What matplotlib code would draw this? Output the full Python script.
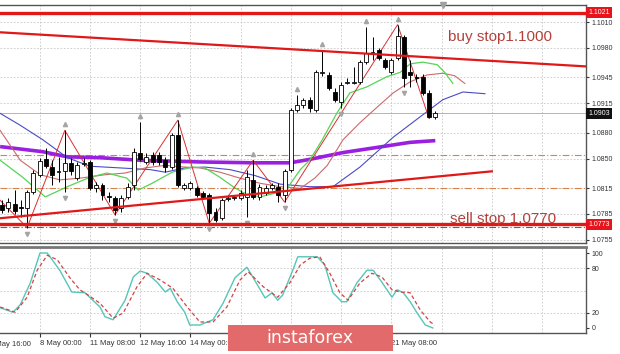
import numpy as np
import matplotlib.pyplot as plt
from matplotlib.patches import Rectangle
from matplotlib.transforms import blended_transform_factory

plt.rcParams['font.family'] = ['Liberation Sans', 'DejaVu Sans']

# EURUSD H4 candles
opens = [1.0795, 1.0792, 1.0797, 1.0793, 1.0792, 1.0811, 1.0831, 1.0849, 1.0840, 1.0834,
         1.0835, 1.0845, 1.0827, 1.0844, 1.0846, 1.0815, 1.0819, 1.0806, 1.0804, 1.0792,
         1.0805, 1.0819, 1.0857, 1.0846, 1.0854, 1.0854, 1.0848, 1.0840, 1.0878, 1.0815,
         1.0815, 1.0815, 1.0810, 1.0807, 1.0787, 1.0780, 1.0803, 1.0804, 1.0804, 1.0805,
         1.0825, 1.0805, 1.0810, 1.0815, 1.0817, 1.0807, 1.0837, 1.0907, 1.0913, 1.0919,
         1.0907, 1.0950, 1.0948, 1.0928, 1.0916, 1.0938, 1.0938, 1.0940, 1.0963, 1.0974,
         1.0977, 1.0965, 1.0951, 1.0968, 1.0992, 1.0951, 1.0946, 1.0946, 1.0927, 1.0899]
highs = [1.0801, 1.0804, 1.0813, 1.0801, 1.0813, 1.0837, 1.0851, 1.0862, 1.0848, 1.0852,
         1.0883, 1.0851, 1.0846, 1.0851, 1.0848, 1.0822, 1.0821, 1.0811, 1.0806, 1.0807,
         1.0821, 1.0862, 1.0893, 1.0857, 1.0858, 1.0858, 1.0852, 1.0880, 1.0895, 1.0821,
         1.0824, 1.0818, 1.0812, 1.0810, 1.0792, 1.0804, 1.0807, 1.0807, 1.0813, 1.0837,
         1.0848, 1.0820, 1.0819, 1.0821, 1.0821, 1.0838, 1.0909, 1.0924, 1.0921, 1.0922,
         1.0954, 1.0977, 1.0951, 1.0933, 1.0940, 1.0944, 1.0957, 1.0965, 1.1004, 1.0992,
         1.0980, 1.0968, 1.0968, 1.1007, 1.0995, 1.0965, 1.0949, 1.0949, 1.0930, 1.0906]
lows = [1.0786, 1.0787, 1.0785, 1.0782, 1.0769, 1.0808, 1.0828, 1.0839, 1.0819, 1.0822,
        1.0811, 1.0831, 1.0825, 1.0841, 1.0813, 1.0811, 1.0801, 1.0799, 1.0784, 1.0787,
        1.0803, 1.0813, 1.0847, 1.0844, 1.0842, 1.0842, 1.0834, 1.0838, 1.0817, 1.0813,
        1.0813, 1.0805, 1.0803, 1.0774, 1.0776, 1.0778, 1.0800, 1.0801, 1.0801, 1.0782,
        1.0803, 1.0801, 1.0807, 1.0813, 1.0799, 1.0799, 1.0834, 1.0904, 1.0909, 1.0904,
        1.0904, 1.0947, 1.0930, 1.0916, 1.0909, 1.0937, 1.0937, 1.0937, 1.0961, 1.0965,
        1.0965, 1.0955, 1.0949, 1.0965, 1.0934, 1.0934, 1.0940, 1.0924, 1.0897, 1.0896]
closes = [1.0790, 1.0799, 1.0788, 1.0792, 1.0811, 1.0833, 1.0847, 1.0841, 1.0831, 1.0835,
          1.0845, 1.0835, 1.0842, 1.0845, 1.0815, 1.0819, 1.0807, 1.0805, 1.0790, 1.0804,
          1.0817, 1.0858, 1.0849, 1.0852, 1.0846, 1.0846, 1.0840, 1.0878, 1.0819, 1.0819,
          1.0821, 1.0807, 1.0805, 1.0786, 1.0778, 1.0801, 1.0804, 1.0805, 1.0810, 1.0828,
          1.0805, 1.0817, 1.0815, 1.0819, 1.0807, 1.0835, 1.0907, 1.0913, 1.0919, 1.0909,
          1.0951, 1.0951, 1.0933, 1.0919, 1.0936, 1.0940, 1.0940, 1.0963, 1.0974, 1.0975,
          1.0968, 1.0957, 1.0965, 1.0994, 1.0944, 1.0948, 1.0944, 1.0927, 1.0899, 1.0903]

# slow MA (purple)
ma_x = [-0.3, 6.5, 10.4, 15.6, 22.0, 31.5, 40.0, 45.9, 49.0, 54.3, 59.7, 65.0, 69.0]
ma_y = [1.0864, 1.0858, 1.0852, 1.0851, 1.0848, 1.0846, 1.0845, 1.0845, 1.0849, 1.0857,
        1.0863, 1.0869, 1.0871]

# alligator lines
jaw_x = [-0.3, 2.9, 6.5, 10.4, 14.0, 18.8, 23.6, 26.0, 29.1, 32.3, 36.3, 40.3, 44.3, 49.0,
         52.7, 57.0, 62.3, 66.6, 70.2, 73.4, 76.9]
jaw_y = [1.0903, 1.0889, 1.0872, 1.0851, 1.0841, 1.0839, 1.0837, 1.0834, 1.0839, 1.0840,
         1.0837, 1.0830, 1.0820, 1.0817, 1.0817, 1.0840, 1.0875, 1.0899, 1.0919, 1.0928, 1.0926]
teeth_x = [-0.3, 2.9, 6.1, 9.2, 12.4, 16.4, 19.6, 22.8, 26.0, 29.1, 31.5, 34.7, 37.9, 41.1,
           44.3, 47.5, 49.8, 51.8, 54.3, 57.0, 59.7, 62.3, 65.0, 67.7, 70.2, 72.1, 73.7]
teeth_y = [1.0883, 1.0848, 1.0831, 1.0825, 1.0827, 1.0831, 1.0833, 1.0839, 1.0842, 1.0840,
           1.0839, 1.0834, 1.0827, 1.0821, 1.0817, 1.0815, 1.0827, 1.0842, 1.0872, 1.0892,
           1.0910, 1.0927, 1.0940, 1.0948, 1.0950, 1.0947, 1.0938]
lips_x = [-0.3, 3.3, 6.9, 10.4, 14.0, 16.7, 19.9, 21.7, 23.9, 27.1, 30.3, 32.3, 34.7, 36.8,
          38.4, 41.1, 43.8, 45.4, 47.5, 49.0, 51.0, 53.3, 55.4, 58.1, 61.3, 63.4, 65.0, 67.0,
          69.3, 70.5, 71.8]
lips_y = [1.0848, 1.0828, 1.0805, 1.0817, 1.0828, 1.0833, 1.0827, 1.0813, 1.0821, 1.0834,
          1.0840, 1.0839, 1.0828, 1.0817, 1.0810, 1.0805, 1.0810, 1.0815, 1.0837, 1.0848,
          1.0872, 1.0903, 1.0927, 1.0934, 1.0946, 1.0951, 1.0961, 1.0963, 1.0960, 1.0951, 1.0938]

# zigzag pivots
zz_x = [-0.3, 4, 10, 18, 28, 33, 40, 45, 63, 68]
zz_y = [1.0801, 1.0769, 1.0883, 1.0784, 1.0895, 1.0774, 1.0848, 1.0799, 1.1007, 1.0897]

# fractals
fr_up = [10, 22, 28, 40, 47, 51, 58, 63]
fr_dn = [4, 10, 18, 33, 39, 45, 54, 64]

# levels and trendlines
res_level, sup_level = 1.1021, 1.0773
sell_level = 1.0770
dash_levels = [1.0854, 1.0815]
last_price = 1.0903
trend_dn_x, trend_dn_y = [-0.32, 93.0], [1.0998, 1.0958]
trend_up_x, trend_up_y = [-0.32, 78.0], [1.0780, 1.0835]

price_ticks = [1.1010, 1.0980, 1.0945, 1.0915, 1.0880, 1.0850, 1.0815, 1.0785, 1.0755]
time_ticks = [-2, 6, 14, 22, 30, 38, 46, 54, 62]
time_labels = ['6 May 16:00', '8 May 00:00', '11 May 08:00', '12 May 16:00', '14 May 00:00',
               '', '', '', '21 May 08:00']   # middle ones sit under the logo
grid_x = [6, 14, 22, 30, 38, 46, 54, 62, 70, 78, 86]

# stochastic
k_x = [-0.3, 1.75, 2.9, 4.5, 6.05, 7.2, 9.2, 11.1, 13.2, 15.6, 16.4, 17.7, 19.6, 20.9, 22.0,
       23.1, 24.7, 26.0, 26.8, 27.9, 29.1, 29.9, 31.5, 33.6, 35.2, 37.1, 39.0, 40.0, 41.9,
       43.0, 43.9, 44.7, 46.3, 47.1, 48.7, 50.2, 51.4, 52.7, 54.1, 54.9, 56.5, 58.1, 59.1,
       60.5, 62.1, 62.9, 63.9, 65.0, 66.1, 67.4, 68.6]
k_y = [27, 21, 31, 60, 100, 100, 77, 48, 47, 28, 15, 11, 37, 68, 76, 73, 61, 48, 53, 35, 21,
       4, 4, 11, 33, 67, 81, 67, 40, 47, 37, 44, 77, 95, 95, 95, 84, 47, 35, 35, 60, 77, 77,
       61, 41, 51, 47, 35, 20, 4, 0]
d_x = [-0.3, 2.1, 4.0, 5.6, 7.2, 8.8, 10.8, 12.4, 13.7, 15.6, 17.7, 19.3, 21.5, 23.1, 25.2,
       27.2, 29.5, 31.5, 33.6, 35.8, 37.9, 39.2, 41.6, 43.9, 45.9, 47.5, 49.0, 50.6, 52.2,
       53.8, 55.1, 57.0, 58.9, 60.5, 62.1, 63.4, 65.0, 66.6, 68.2, 68.9]
d_y = [28, 21, 41, 77, 97, 91, 67, 51, 44, 33, 13, 20, 55, 73, 64, 53, 28, 8, 8, 28, 64, 75,
       55, 41, 61, 84, 93, 95, 73, 47, 37, 60, 73, 68, 51, 48, 47, 24, 8, 4]

o, h, l, c = map(np.array, (opens, highs, lows, closes))
bars = np.arange(len(o))

fig = plt.figure(figsize=(6.2, 3.54), dpi=100)
ax = fig.add_axes([0, 0.3136, 0.9452, 0.6723])
ax2 = fig.add_axes([0, 0.0593, 0.9452, 0.2429])

grid_kw = dict(color='#c8c8c8', lw=0.6, ls=(0, (2, 2)), zorder=0)
for a in (ax, ax2):
    for gx in grid_x:
        a.axvline(gx, **grid_kw)
    a.set_xlim(-0.32, 93.0)
    a.spines['left'].set_visible(False)
    for s in ('top', 'right', 'bottom'):
        a.spines[s].set_color('#555555')
        a.spines[s].set_linewidth(1.0)
for py in price_ticks:
    ax.axhline(py, **grid_kw)
for sy in (20, 50, 80):
    ax2.axhline(sy, **grid_kw)

ax.set_ylim(1.0751, 1.1030)

# levels
ax.axhline(last_price, color='#a8a8a8', lw=0.6, zorder=1)
for lv in dash_levels:
    ax.axhline(lv, color='#d8824a', lw=0.8, ls=(0, (6, 2, 1, 2)), zorder=1)
ax.axhline(sell_level, color='#3f7a3f', lw=0.8, ls=(0, (6, 2, 1, 2)), zorder=1)
ax.axhline(res_level, color='#e01818', lw=2.4, zorder=5)
ax.axhline(sup_level, color='#e01818', lw=2.4, zorder=5)
ax.plot(trend_dn_x, trend_dn_y, color='#e01818', lw=1.6, zorder=5)
ax.plot(trend_up_x, trend_up_y, color='#e01818', lw=1.6, zorder=5)

# indicators
ax.plot(ma_x, ma_y, color='#9a1fdf', lw=2.6, zorder=2, solid_capstyle='butt')
ax.plot(jaw_x, jaw_y, color='#4a4ac8', lw=0.8, zorder=2)
ax.plot(teeth_x, teeth_y, color='#cc6a6a', lw=0.8, zorder=2)
ax.plot(lips_x, lips_y, color='#55d455', lw=0.9, zorder=2)
ax.plot(zz_x, zz_y, color='#d83030', lw=0.7, zorder=3)

# candles
ax.vlines(bars, l, h, color='black', lw=0.7, zorder=3)
body_col = ['white' if ci >= oi else 'black' for oi, ci in zip(o, c)]
ax.bar(bars, np.abs(c - o), bottom=np.minimum(o, c), width=0.62, color=body_col,
       edgecolor='black', linewidth=0.6, zorder=4)

ax.plot(fr_up, h[fr_up] + 0.0007, ls='none', marker='^', ms=3.0, color='#a5a5a5', zorder=3)
ax.plot(fr_dn, l[fr_dn] - 0.0007, ls='none', marker='v', ms=3.0, color='#a5a5a5', zorder=3)
ax.plot([70.2], [1.1030], marker='v', ms=5, color='#a0a0a0', clip_on=False, zorder=6)

ax.text(71.0, 1.0992, 'buy stop1.1000', color='#b5403a', fontsize=11, va='center')
ax.text(71.3, 1.0779, 'sell stop 1.0770', color='#b5403a', fontsize=11, va='center', zorder=6)

# price scale
ax.yaxis.tick_right()
ax.set_yticks(price_ticks)
ax.set_yticklabels(['%.4f' % p for p in price_ticks])
ax.tick_params(axis='y', labelsize=5, length=2, pad=2, colors='#333333')
ax.set_xticks([])
blend = blended_transform_factory(ax.transAxes, ax.transData)
box_kw = dict(transform=blend, fontsize=5, color='white', va='center', ha='left', clip_on=False)
ax.text(1.004, res_level, '%.4f' % res_level, bbox=dict(boxstyle='square,pad=0.3', fc='#e8141c', ec='none'), **box_kw)
ax.text(1.004, sup_level, '%.4f' % sup_level, bbox=dict(boxstyle='square,pad=0.3', fc='#e8141c', ec='none'), **box_kw)
ax.text(1.004, last_price, '%.4f' % last_price, bbox=dict(boxstyle='square,pad=0.3', fc='#111111', ec='none'), **box_kw)

# stochastic panel
ax2.plot(k_x, k_y, color='#55c6b8', lw=1.0, zorder=3)
ax2.plot(d_x, d_y, color='#d24444', lw=0.9, ls=(0, (3, 2)), zorder=3)
ax2.set_ylim(-6.7, 108)
ax2.spines['top'].set_linewidth(2.0)
ax2.spines['top'].set_color('#777777')
ax2.yaxis.tick_right()
ax2.set_yticks([0, 20, 80, 100])
ax2.tick_params(axis='y', labelsize=5, length=2, pad=2, colors='#333333')
ax2.set_xticks(time_ticks[1:])
ax2.set_xticklabels(time_labels[1:], ha='left')
ax2.tick_params(axis='x', labelsize=5.5, length=3, pad=2, colors='#333333')
ax2.text(time_ticks[0], -0.09, time_labels[0], transform=blended_transform_factory(ax2.transData, ax2.transAxes),
         fontsize=5.5, color='#333333', ha='left', va='top', clip_on=False)

# logo
fig.patches.append(Rectangle((228 / 620, 3 / 354), 165 / 620, 26 / 354, transform=fig.transFigure,
                             facecolor='#e36a6a', edgecolor='none', zorder=10))
fig.text(0.5005, 0.046, 'instaforex', color='white', fontsize=12.5, ha='center', va='center',
         family=['Liberation Sans Narrow', 'DejaVu Sans'], zorder=11)

fig.savefig('out.png', dpi=100)
